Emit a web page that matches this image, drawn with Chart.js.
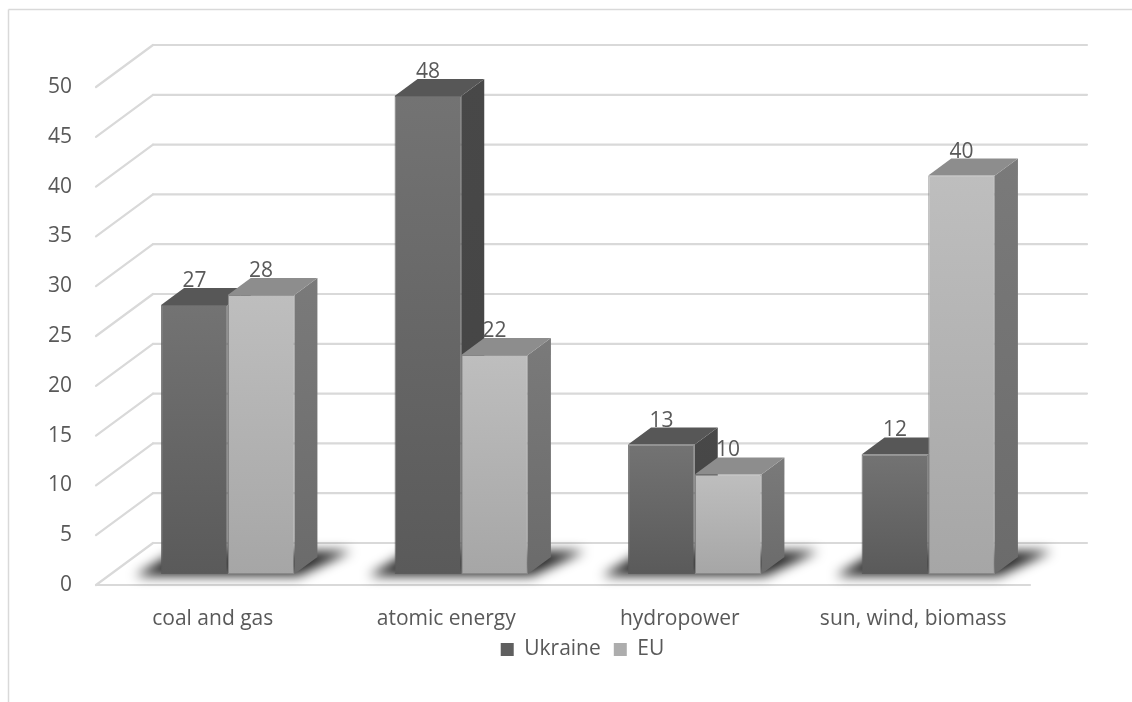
<!DOCTYPE html>
<html>
<head>
<meta charset="utf-8">
<script src="https://cdn.jsdelivr.net/npm/chart.js@4/dist/chart.umd.min.js"></script>
<style>
  html, body { margin: 0; padding: 0; background: #fff; }
  canvas { display: block; }
</style>
</head>
<body>
<canvas id="chart" width="1132" height="702"></canvas>
<script>
// ---- data ----
const categories = ['coal and gas', 'atomic energy', 'hydropower', 'sun, wind, biomass'];
const seriesNames = ['Ukraine', 'EU'];
const ukraineValues = [27, 48, 13, 12];
const euValues = [28, 22, 10, 40];
const yMin = 0;
const yMax = 50;
const yStep = 5;

// ---- look ----
const FONT = '"Open Sans", sans-serif';
const TEXT = '#595959';
const GRID = '#d9d9d9';
// column depth as projected on screen
const BAR_DX = 23, BAR_DY = 17;
// floor front edge and back wall, relative to the plane of the column fronts
const FRONT_DX = -15, FRONT_DY = 11;
const BACK_DX = 42, BACK_DY = -31;
// legend is centred on the whole canvas rather than the plot, and sits a bit higher
const LEGEND_SHIFT_X = 60;
const LEGEND_SHIFT_Y = -10;

const STYLES = [
  { frontTop: '#737373', frontBottom: '#5a5a5a', top: '#575757', sideTop: '#484848', sideBottom: '#444444', edge: 'rgba(90,90,90,0.9)', legend: '#5f5f5f' },
  { frontTop: '#bebebe', frontBottom: '#a6a6a6', top: '#8d8d8d', sideTop: '#7a7a7a', sideBottom: '#6b6b6b', edge: 'rgba(140,140,140,0.9)', legend: '#adadad' }
];

function frontFill(styleIdx) {
  return (ctx) => {
    const chart = ctx.chart;
    const st = STYLES[styleIdx];
    if (!chart.chartArea || ctx.type !== 'data') return st.frontBottom;
    const ys = chart.scales.y;
    const yTop = ys.getPixelForValue(ctx.raw);
    const yBase = ys.getPixelForValue(0);
    const g = chart.ctx.createLinearGradient(0, yTop, 0, yBase);
    g.addColorStop(0, st.frontTop);
    g.addColorStop(1, st.frontBottom);
    return g;
  };
}

function line(c, x1, y1, x2, y2) {
  c.beginPath();
  c.moveTo(x1, y1);
  c.lineTo(x2, y2);
  c.stroke();
}

function poly(c, pts, fill) {
  c.beginPath();
  c.moveTo(pts[0][0], pts[0][1]);
  for (let i = 1; i < pts.length; i++) c.lineTo(pts[i][0], pts[i][1]);
  c.closePath();
  c.fillStyle = fill;
  c.fill();
}

// 3D walls, floor, shadows, column sides/tops and value labels
const box3d = {
  id: 'box3d',
  afterLayout(chart) {
    const lg = chart.legend;
    if (lg) {
      lg.left += LEGEND_SHIFT_X;
      lg.right += LEGEND_SHIFT_X;
      lg.top += LEGEND_SHIFT_Y;
      lg.bottom += LEGEND_SHIFT_Y;
    }
  },
  beforeDraw(chart) {
    const c = chart.ctx;
    c.save();
    c.strokeStyle = GRID;
    c.lineWidth = 1.5;
    line(c, 8.5, 9.5, 1132, 9.5);
    line(c, 8.5, 9.5, 8.5, 702);
    c.restore();
  },
  beforeDatasetsDraw(chart) {
    const c = chart.ctx;
    const ys = chart.scales.y;
    const { left, right } = chart.chartArea;
    c.save();
    c.strokeStyle = GRID;
    c.lineWidth = 2.2;
    c.lineCap = 'round';
    ys.ticks.forEach(t => {
      const y = ys.getPixelForValue(t.value);
      line(c, left + FRONT_DX, y + FRONT_DY, left + BACK_DX, y + BACK_DY);
      line(c, left + BACK_DX, y + BACK_DY, right + BACK_DX, y + BACK_DY);
    });
    const y0 = ys.getPixelForValue(0);
    line(c, left + FRONT_DX, y0 + FRONT_DY, right + FRONT_DX, y0 + FRONT_DY);
    c.restore();

    const metas = chart.data.datasets.map((_, i) => chart.getDatasetMeta(i));
    const n = chart.data.labels.length;

    // soft shadows on the floor
    for (let i = 0; i < n; i++) {
      const a = metas[0].data[i], b = metas[metas.length - 1].data[i];
      const xl = a.x - a.width / 2, xr = b.x + b.width / 2, yb = a.base;
      c.save();
      c.filter = 'blur(6px)';
      poly(c, [
        [xl - 26, yb + 2],
        [xr + 4, yb + 2],
        [xr + BAR_DX + 34, yb - BAR_DY - 6],
        [xl + BAR_DX - 8, yb - BAR_DY - 6]
      ], 'rgba(0,0,0,0.85)');
      c.restore();
    }

    // side and top faces, left column first so the right one overlaps it
    for (let i = 0; i < n; i++) {
      metas.forEach((m, d) => {
        const el = m.data[i];
        const st = STYLES[d];
        const x1 = el.x - el.width / 2, x2 = el.x + el.width / 2;
        const yt = el.y, yb = el.base;
        const sg = c.createLinearGradient(0, yt - BAR_DY, 0, yb);
        sg.addColorStop(0, st.sideTop);
        sg.addColorStop(1, st.sideBottom);
        c.save();
        poly(c, [[x2, yt], [x2 + BAR_DX, yt - BAR_DY], [x2 + BAR_DX, yb - BAR_DY], [x2, yb]], sg);
        poly(c, [[x1, yt], [x2, yt], [x2 + BAR_DX, yt - BAR_DY], [x1 + BAR_DX, yt - BAR_DY]], st.top);
        c.restore();
      });
    }
  },
  afterDatasetsDraw(chart) {
    const c = chart.ctx;
    c.save();
    c.font = '21px ' + FONT;
    c.fillStyle = TEXT;
    c.textAlign = 'center';
    c.textBaseline = 'alphabetic';
    chart.data.datasets.forEach((ds, d) => {
      chart.getDatasetMeta(d).data.forEach((el, i) => {
        c.fillText(String(ds.data[i]), el.x, el.y - BAR_DY - 1);
      });
    });
    c.restore();
  }
};

new Chart(document.getElementById('chart'), {
  type: 'bar',
  data: {
    labels: categories,
    datasets: [
      { label: seriesNames[0], data: ukraineValues, backgroundColor: frontFill(0), borderColor: STYLES[0].edge, borderWidth: 1, borderSkipped: false },
      { label: seriesNames[1], data: euValues, backgroundColor: frontFill(1), borderColor: STYLES[1].edge, borderWidth: 1, borderSkipped: false }
    ]
  },
  options: {
    responsive: false,
    animation: false,
    events: [],
    layout: { padding: { left: 0, right: 87, top: 76, bottom: 22 } },
    datasets: { bar: { categoryPercentage: 0.571, barPercentage: 1 } },
    scales: {
      x: {
        grid: { display: false, drawTicks: false },
        border: { display: false },
        ticks: { color: TEXT, font: { family: FONT, size: 21 }, padding: 32, labelOffset: FRONT_DX, maxRotation: 0 },
        afterFit(s) { s.height = 62; }
      },
      y: {
        min: yMin, max: yMax,
        grid: { display: false, drawTicks: false },
        border: { display: false },
        ticks: { stepSize: yStep, color: TEXT, font: { family: FONT, size: 21 }, padding: 39, labelOffset: FRONT_DY },
        afterFit(s) { s.width = 111; }
      }
    },
    plugins: {
      tooltip: { enabled: false },
      legend: {
        position: 'bottom',
        labels: {
          color: TEXT,
          font: { family: FONT, size: 21 },
          boxWidth: 13,
          boxHeight: 13,
          padding: 13,
          generateLabels(chart) {
            return chart.data.datasets.map((ds, i) => ({
              text: ds.label,
              fillStyle: STYLES[i].legend,
              strokeStyle: STYLES[i].legend,
              lineWidth: 0,
              fontColor: TEXT,
              hidden: false,
              datasetIndex: i
            }));
          }
        }
      }
    }
  },
  plugins: [box3d]
});
</script>
</body>
</html>
